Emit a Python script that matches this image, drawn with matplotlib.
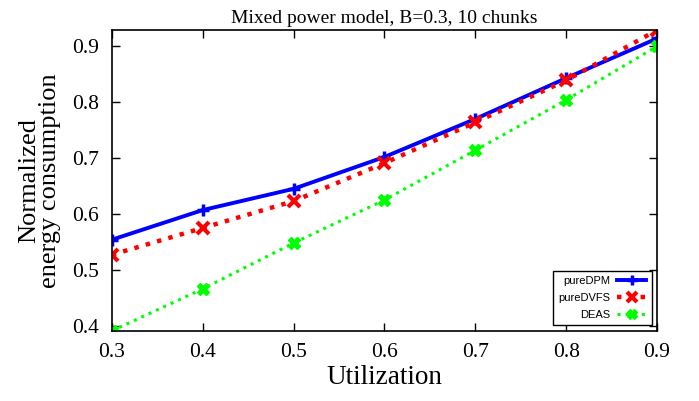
import numpy as np
import matplotlib.pyplot as plt

# normalized energy vs. utilization for three policies
util = [0.3, 0.4, 0.5, 0.6, 0.7, 0.8, 0.9]
pure_dpm = [0.554, 0.607, 0.645, 0.702, 0.770, 0.843, 0.914]
pure_dvfs = [0.527, 0.575, 0.623, 0.691, 0.764, 0.839, 0.929]
deas = [0.391, 0.466, 0.548, 0.625, 0.714, 0.804, 0.900]

plt.rcParams['font.family'] = ['Liberation Serif', 'DejaVu Serif']

fig = plt.figure(figsize=(6.99, 4.01), dpi=100)
ax = fig.add_axes([0.160, 0.175, 0.780, 0.750])

ax.plot(util, pure_dpm, '-', color='#0000ff', lw=2.8, marker='+', ms=9, mew=2.5, label='pureDPM')
ax.plot(util, pure_dvfs, ':', color='#ff0000', lw=3.2, marker='x', ms=8, mew=3, label='pureDVFS')
ax.plot(util, deas, ':', color='#00ff00', lw=2.2, marker='X', ms=9, mew=1, label='DEAS')

ax.set_xlim(0.3, 0.9)
ax.set_ylim(min(deas), max(pure_dvfs))
ax.set_xticks(util)
ax.set_yticks([0.4, 0.5, 0.6, 0.7, 0.8, 0.9])
ax.tick_params(direction='in', top=True, right=True, labelsize=15.5, length=6, width=1, pad=9)
for s in ax.spines.values():
    s.set_linewidth(1.2)

ax.set_xlabel('Utilization', fontsize=19.5, labelpad=2)
ax.set_ylabel('Normalized\nenergy consumption', fontsize=19, linespacing=0.95, labelpad=8)
ax.set_title('Mixed power model, B=0.3, 10 chunks', fontsize=14, pad=5)

leg = ax.legend(loc='lower right', markerfirst=False, fancybox=False, framealpha=1,
                edgecolor='black', prop={'family': 'Liberation Sans', 'size': 8},
                handlelength=2.6, borderaxespad=0.5, labelspacing=0.6,
                handletextpad=0.6, borderpad=0.5)
leg.get_frame().set_linewidth(1)
for h in leg.legend_handles:
    h.set_markersize(7)

fig.savefig('out.png', dpi=100)
